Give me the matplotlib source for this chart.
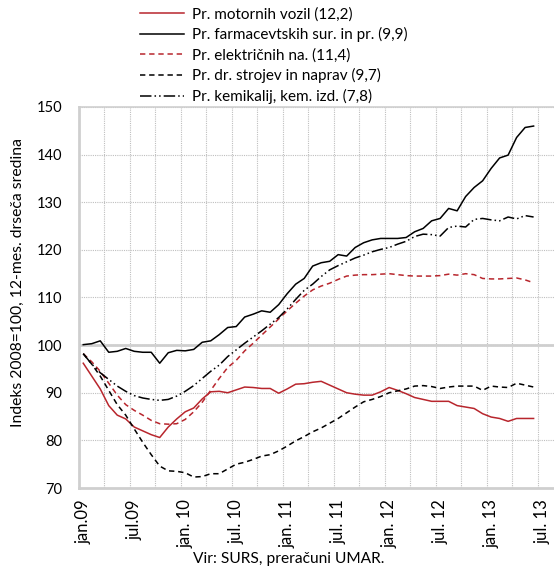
import numpy as np
import matplotlib.pyplot as plt

# monthly 12-month moving averages, jan.09 .. jun.13, index 2008=100
months = np.arange(54)

motorna_vozila = [96.2, 93.5, 90.8, 87.3, 85.3, 84.5, 82.8, 82.0, 81.2, 80.6,
                  82.8, 84.5, 86.0, 86.8, 88.7, 90.2, 90.3, 90.0, 90.6, 91.2,
                  91.1, 90.9, 90.9, 89.9, 90.8, 91.8, 91.9, 92.2, 92.4, 91.6,
                  90.8, 90.0, 89.7, 89.5, 89.5, 90.2, 91.1, 90.5, 89.8, 89.0,
                  88.6, 88.2, 88.2, 88.2, 87.3, 87.0, 86.7, 85.6, 84.9, 84.6,
                  84.0, 84.6, 84.6, 84.6]

farmacevtski = [100.1, 100.3, 100.9, 98.5, 98.7, 99.3, 98.7, 98.5, 98.5, 96.2,
                98.4, 98.9, 98.8, 99.1, 100.6, 100.9, 102.2, 103.7, 103.9, 105.9,
                106.5, 107.2, 106.9, 108.5, 110.8, 112.8, 114.0, 116.6, 117.3, 117.6,
                119.0, 118.7, 120.5, 121.5, 122.1, 122.4, 122.4, 122.4, 122.6, 123.8,
                124.5, 126.1, 126.6, 128.7, 128.2, 131.2, 133.1, 134.5, 137.1, 139.3,
                139.9, 143.6, 145.7, 146.0]

elektricne_naprave = [98.2, 96.5, 94.5, 92.0, 89.5, 87.5, 86.3, 85.3, 84.2, 83.5,
                      83.4, 83.5, 84.4, 86.0, 88.0, 90.5, 93.0, 95.3, 96.8, 98.8,
                      100.4, 102.1, 103.8, 105.5, 107.2, 108.8, 110.3, 111.6, 112.4, 113.0,
                      113.8, 114.5, 114.7, 114.8, 114.8, 114.9, 115.0, 114.8, 114.6, 114.5,
                      114.5, 114.5, 114.6, 114.9, 114.7, 115.0, 114.8, 114.0, 113.9, 113.9,
                      114.0, 114.1, 113.7, 113.1]

stroji_naprave = [98.2, 96.0, 93.5, 90.5, 87.5, 85.3, 82.4, 79.6, 77.0, 74.6,
                  73.6, 73.5, 73.2, 72.3, 72.4, 73.0, 73.0, 74.0, 75.0, 75.4,
                  76.0, 76.7, 77.0, 77.8, 78.8, 79.9, 80.8, 81.8, 82.6, 83.6,
                  84.6, 85.8, 87.0, 88.1, 88.6, 89.2, 90.0, 90.4, 90.8, 91.4,
                  91.5, 91.3, 90.9, 91.2, 91.4, 91.4, 91.4, 90.5, 91.4, 91.2,
                  91.1, 92.0, 91.6, 91.2]

kemikalije = [98.2, 96.0, 94.2, 92.8, 91.4, 90.3, 89.4, 88.9, 88.6, 88.4,
              88.6, 89.3, 90.3, 91.5, 93.0, 94.5, 95.8, 97.6, 99.0, 100.4,
              101.7, 103.0, 104.4, 105.8, 107.6, 109.6, 111.5, 112.8, 114.4, 115.8,
              116.7, 117.5, 118.3, 118.9, 119.6, 120.1, 120.5, 121.2, 121.8, 122.8,
              123.3, 123.2, 122.9, 124.7, 125.0, 124.8, 126.4, 126.6, 126.3, 126.1,
              126.9, 126.5, 127.2, 126.9]

labels = ['Pr. motornih vozil (12,2)', 'Pr. farmacevtskih sur. in pr. (9,9)',
          'Pr. električnih na. (11,4)', 'Pr. dr. strojev in naprav (9,7)',
          'Pr. kemikalij, kem. izd. (7,8)']
tick_labels = ['jan.09', 'jul.09', 'jan. 10', 'jul. 10', 'jan. 11', 'jul. 11',
               'jan. 12', 'jul. 12', 'jan. 13', 'jul. 13']

plt.rcParams['font.family'] = ['Lato', 'DejaVu Sans']
red = '#B8262D'
grid_c = '#BFBFBF'

W, H = 554, 568
fig = plt.figure(figsize=(W / 100, H / 100), dpi=100)
ax = fig.add_axes([79 / W, 80 / H, 1 - 79 / W, 381 / H])

lw = 1.1
ax.plot(months, motorna_vozila, color=red, lw=lw, label=labels[0])
ax.plot(months, farmacevtski, color='black', lw=lw, label=labels[1])
ax.plot(months, elektricne_naprave, color=red, lw=lw, dashes=(3.5, 2.5), label=labels[2])
ax.plot(months, stroji_naprave, color='black', lw=lw, dashes=(3.5, 2.5), label=labels[3])
ax.plot(months, kemikalije, color='black', lw=lw, dashes=(7.5, 2, 1, 2, 1, 2), label=labels[4])

ax.set_xlim(-0.5, 55.4)
ax.set_ylim(70, 150)

# gridlines: vertical every 3 months (between labels), horizontal every 10
for m in np.arange(2.5, 54, 3):
    ax.axvline(m, color=grid_c, lw=0.8, ls=(0, (1, 1)), zorder=0)
for v in range(80, 151, 10):
    ax.axhline(v, color=grid_c, lw=0.8, ls=(0, (1, 1)), zorder=0)
ax.axhline(100, color='#CFCFCF', lw=2, zorder=0)

ax.set_xticks(np.arange(0, 55, 6))
ax.set_xticklabels(tick_labels, rotation=90, fontsize=12)
ax.set_yticks(range(70, 151, 10))
ax.tick_params(axis='both', length=0)
ax.tick_params(axis='x', pad=8)
ax.tick_params(axis='y', pad=12, labelsize=10.5)

for s in ['left', 'bottom']:
    ax.spines[s].set_color('#CFCFCF')
    ax.spines[s].set_linewidth(2)
ax.spines['top'].set_color('#CFCFCF')
ax.spines['top'].set_linewidth(1.2)
ax.spines['right'].set_visible(False)

fig.text(17.5 / W, 1 - 283 / H, 'Indeks 2008=100, 12-mes. drseča sredina',
         rotation=90, ha='center', va='center', fontsize=11.3)

fig.legend(loc='upper left', bbox_to_anchor=(140 / W, 1 - 7 / H), frameon=False,
           fontsize=11, handlelength=2.9, handletextpad=0.52, labelspacing=0.38,
           borderpad=0, borderaxespad=0)

fig.text(193 / W, 1 - 559 / H, 'Vir: SURS, preračuni UMAR.', ha='left', va='center', fontsize=11.2)

fig.savefig('out.png', dpi=100)
